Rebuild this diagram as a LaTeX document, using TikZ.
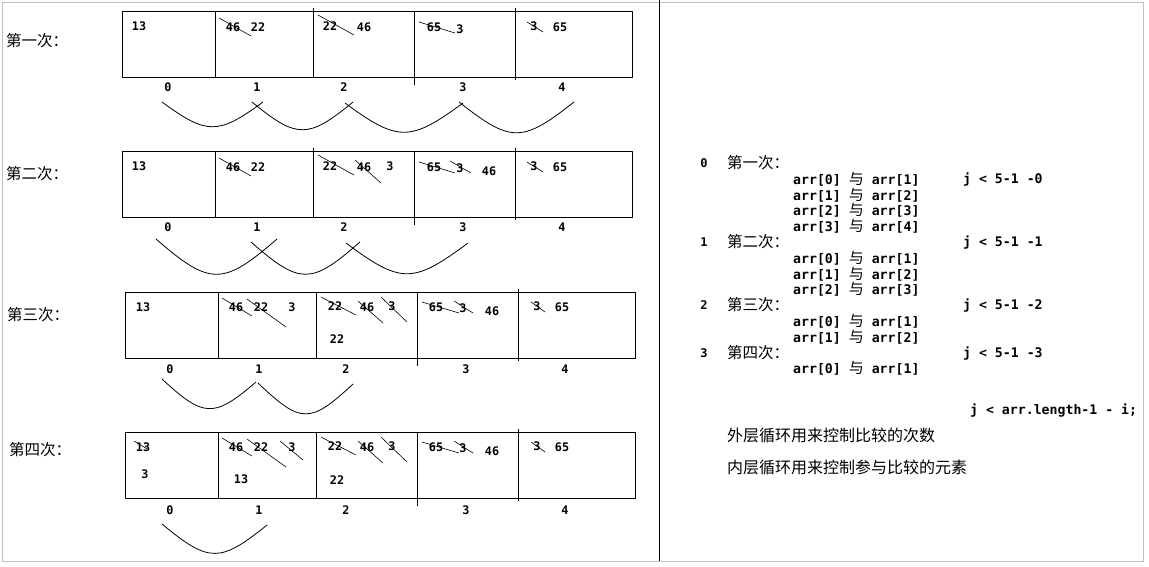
\documentclass[tikz,border=0pt]{standalone}
\usepackage{fontspec}
\setmonofont{DejaVu Sans Mono}
\newfontfamily\cjk{Noto Sans CJK SC}
\usetikzlibrary{positioning}
\definecolor{framegray}{RGB}{192,192,192}
\newcommand{\yu}{{\cjk\mdseries\fontsize{15}{15}\selectfont 与}}
\tikzset{
    num/.style = {font=\ttfamily\bfseries\fontsize{11.8}{11.8}\selectfont, inner sep=0pt},
    idx/.style = {font=\ttfamily\bfseries\fontsize{11.8}{11.8}\selectfont, inner sep=0pt},
    code/.style = {font=\ttfamily\bfseries\fontsize{13.2}{13.2}\selectfont, inner sep=0pt, anchor=west},
    rowname/.style = {font=\cjk\fontsize{15.5}{15.5}\selectfont, inner sep=0pt, anchor=west},
    frame/.style = {draw=framegray, line width=1pt},
    box/.style = {draw, line width=0.9pt},
    cross/.style = {draw, line width=0.6pt},
    cmp/.style = {draw, line width=0.8pt}
}

\begin{document}
\begin{tikzpicture}[x=1pt, y=-1pt, line join=round]
        \useasboundingbox (0,0) rectangle (1149,566);
        \draw[frame] (2,2) rectangle (1143,561);
        \draw[box] (659,0) -- (659,561);
        % first pass
        \node[rowname] (t1) at (6,41) {第一次：};
        \draw[box] (122,11) rectangle (632,77);
        \draw[box] (215,11) -- (215,77) (313,8) -- (313,77) (414,11) -- (414,85) (515,8) -- (515,80);
        \node[num] (r1n1) at (139,26) {13};
        \node[num] (r1n2) at (233,27) {46};
        \node[num] (r1n3) at (258,27) {22};
        \draw[cross] (219,18) -- (251,36);
        \node[num] (r1n4) at (330,26) {22};
        \node[num] (r1n5) at (364,27) {46};
        \draw[cross] (318,15) -- (354,35);
        \node[num] (r1n6) at (434,27) {65};
        \node[num] (r1n7) at (460,29) {3};
        \draw[cross] (419,22) -- (455,33);
        \node[num] (r1n8) at (534,26) {3};
        \node[num] (r1n9) at (560,27) {65};
        \draw[cross] (527,22) -- (543,32);
        \node[idx] (r1i0) at (168,87) {0};
        \node[idx] (r1i1) at (257,87) {1};
        \node[idx] (r1i2) at (344,87) {2};
        \node[idx] (r1i3) at (463,87) {3};
        \node[idx] (r1i4) at (562,87) {4};
        \draw[cmp] (162,102) .. controls (207,135) and (218,135) .. (263,102);
        \draw[cmp] (252,102) .. controls (297,139) and (308,139) .. (353,102);
        \draw[cmp] (345,103) .. controls (398,142) and (410,142) .. (463,103);
        \draw[cmp] (459,102) .. controls (511,143) and (522,143) .. (574,102);
        % second pass
        \node[rowname] (t2) at (6,174) {第二次：};
        \draw[box] (122,151) rectangle (632,217);
        \draw[box] (215,151) -- (215,217) (313,148) -- (313,217) (414,151) -- (414,225) (515,148) -- (515,220);
        \node[num] (r2n1) at (139,166) {13};
        \node[num] (r2n2) at (233,167) {46};
        \node[num] (r2n3) at (258,167) {22};
        \draw[cross] (219,158) -- (251,176);
        \node[num] (r2n4) at (330,166) {22};
        \node[num] (r2n5) at (364,167) {46};
        \node[num] (r2n6) at (390,166) {3};
        \draw[cross] (318,155) -- (354,175);
        \draw[cross] (355,160) -- (381,183);
        \node[num] (r2n7) at (434,167) {65};
        \node[num] (r2n8) at (460,168) {3};
        \node[num] (r2n9) at (489,171) {46};
        \draw[cross] (419,162) -- (455,173);
        \draw[cross] (450,161) -- (471,173);
        \node[num] (r2n10) at (534,166) {3};
        \node[num] (r2n11) at (560,167) {65};
        \draw[cross] (527,162) -- (543,172);
        \node[idx] (r2i0) at (168,227) {0};
        \node[idx] (r2i1) at (257,227) {1};
        \node[idx] (r2i2) at (344,227) {2};
        \node[idx] (r2i3) at (463,227) {3};
        \node[idx] (r2i4) at (562,227) {4};
        \draw[cmp] (156,239) .. controls (210,286) and (223,286) .. (277,239);
        \draw[cmp] (251,242) .. controls (300,285) and (311,285) .. (360,242);
        \draw[cmp] (346,243) .. controls (401,284) and (413,284) .. (468,243);
        % third pass
        \node[rowname] (t3) at (7,315) {第三次：};
        \draw[box] (125,292) rectangle (635,358);
        \draw[box] (218,292) -- (218,358) (316,292) -- (316,358) (417,292) -- (417,366) (518,289) -- (518,361);
        \node[num] (r3n1) at (143,307) {13};
        \node[num] (r3n2) at (236,307) {46};
        \node[num] (r3n3) at (261,307) {22};
        \node[num] (r3n4) at (292,307) {3};
        \draw[cross] (222,298) -- (252,316);
        \draw[cross] (247,299) -- (286,327);
        \node[num] (r3n5) at (335,306) {22};
        \node[num] (r3n6) at (367,307) {46};
        \node[num] (r3n7) at (392,306) {3};
        \node[num] (r3n8) at (337,339) {22};
        \draw[cross] (321,297) -- (356,315);
        \draw[cross] (358,301) -- (383,323);
        \draw[cross] (381,297) -- (407,322);
        \node[num] (r3n9) at (436,307) {65};
        \node[num] (r3n10) at (463,308) {3};
        \node[num] (r3n11) at (492,311) {46};
        \draw[cross] (422,302) -- (459,313);
        \draw[cross] (454,301) -- (473,313);
        \node[num] (r3n12) at (537,306) {3};
        \node[num] (r3n13) at (562,307) {65};
        \draw[cross] (531,302) -- (545,312);
        \node[idx] (r3i0) at (170,369) {0};
        \node[idx] (r3i1) at (259,369) {1};
        \node[idx] (r3i2) at (346,369) {2};
        \node[idx] (r3i3) at (466,369) {3};
        \node[idx] (r3i4) at (565,369) {4};
        \draw[cmp] (162,379) .. controls (204,418) and (214,418) .. (256,382);
        \draw[cmp] (258,383) .. controls (301,424) and (310,424) .. (353,384);
        % fourth pass
        \node[rowname] (t4) at (9,450) {第四次：};
        \draw[box] (125,432) rectangle (635,498);
        \draw[box] (218,432) -- (218,498) (316,432) -- (316,498) (417,432) -- (417,506) (518,429) -- (518,501);
        \node[num] (r4n1) at (143,447) {13};
        \node[num] (r4n2) at (145,474) {3};
        \draw[cross] (134,441) -- (149,450);
        \node[num] (r4n3) at (236,447) {46};
        \node[num] (r4n4) at (261,447) {22};
        \node[num] (r4n5) at (292,447) {3};
        \node[num] (r4n6) at (241,479) {13};
        \draw[cross] (222,438) -- (252,456);
        \draw[cross] (247,439) -- (286,467);
        \draw[cross] (280,441) -- (303,460);
        \node[num] (r4n7) at (335,446) {22};
        \node[num] (r4n8) at (367,447) {46};
        \node[num] (r4n9) at (392,446) {3};
        \node[num] (r4n10) at (337,480) {22};
        \draw[cross] (321,437) -- (356,455);
        \draw[cross] (358,441) -- (383,463);
        \draw[cross] (381,437) -- (407,462);
        \node[num] (r4n11) at (436,447) {65};
        \node[num] (r4n12) at (463,448) {3};
        \node[num] (r4n13) at (492,451) {46};
        \draw[cross] (422,442) -- (459,453);
        \draw[cross] (454,441) -- (473,453);
        \node[num] (r4n14) at (537,446) {3};
        \node[num] (r4n15) at (562,447) {65};
        \draw[cross] (531,442) -- (545,452);
        \node[idx] (r4i0) at (170,510) {0};
        \node[idx] (r4i1) at (259,510) {1};
        \node[idx] (r4i2) at (346,510) {2};
        \node[idx] (r4i3) at (466,510) {3};
        \node[idx] (r4i4) at (565,510) {4};
        \draw[cmp] (162,524) .. controls (209,563) and (220,563) .. (267,525);
        % right side notes
        \node[idx, font=\ttfamily\bfseries\fontsize{12}{12}\selectfont] (p0) at (704,163) {0};
        \node[rowname] (q0) at (727,163) {第一次：};
        \node[code] (c1) at (793,179) {arr[0] \yu{} arr[1]};
        \node[code] (j0) at (963,179) {j < 5-1 -0};
        \node[code] (c2) at (793,195) {arr[1] \yu{} arr[2]};
        \node[code] (c3) at (793,210) {arr[2] \yu{} arr[3]};
        \node[code] (c4) at (793,226) {arr[3] \yu{} arr[4]};
        \node[idx, font=\ttfamily\bfseries\fontsize{12}{12}\selectfont] (p1) at (704,242) {1};
        \node[rowname] (q1) at (727,242) {第二次：};
        \node[code] (j1) at (963,242) {j < 5-1 -1};
        \node[code] (c5) at (793,258) {arr[0] \yu{} arr[1]};
        \node[code] (c6) at (793,274) {arr[1] \yu{} arr[2]};
        \node[code] (c7) at (793,289) {arr[2] \yu{} arr[3]};
        \node[idx, font=\ttfamily\bfseries\fontsize{12}{12}\selectfont] (p2) at (704,305) {2};
        \node[rowname] (q2) at (727,305) {第三次：};
        \node[code] (j2) at (963,305) {j < 5-1 -2};
        \node[code] (c8) at (793,321) {arr[0] \yu{} arr[1]};
        \node[code] (c9) at (793,337) {arr[1] \yu{} arr[2]};
        \node[idx, font=\ttfamily\bfseries\fontsize{12}{12}\selectfont] (p3) at (704,353) {3};
        \node[rowname] (q3) at (727,353) {第四次：};
        \node[code] (j3) at (963,353) {j < 5-1 -3};
        \node[code] (c10) at (793,368) {arr[0] \yu{} arr[1]};
        \node[code] (jall) at (970,410) {j < arr.length-1 - i;};
        \node[rowname, font=\cjk\fontsize{16}{16}\selectfont] (outer) at (727,435) {外层循环用来控制比较的次数};
        \node[rowname, font=\cjk\fontsize{16}{16}\selectfont] (inner) at (727,467) {内层循环用来控制参与比较的元素};
    \end{tikzpicture}
\end{document}
